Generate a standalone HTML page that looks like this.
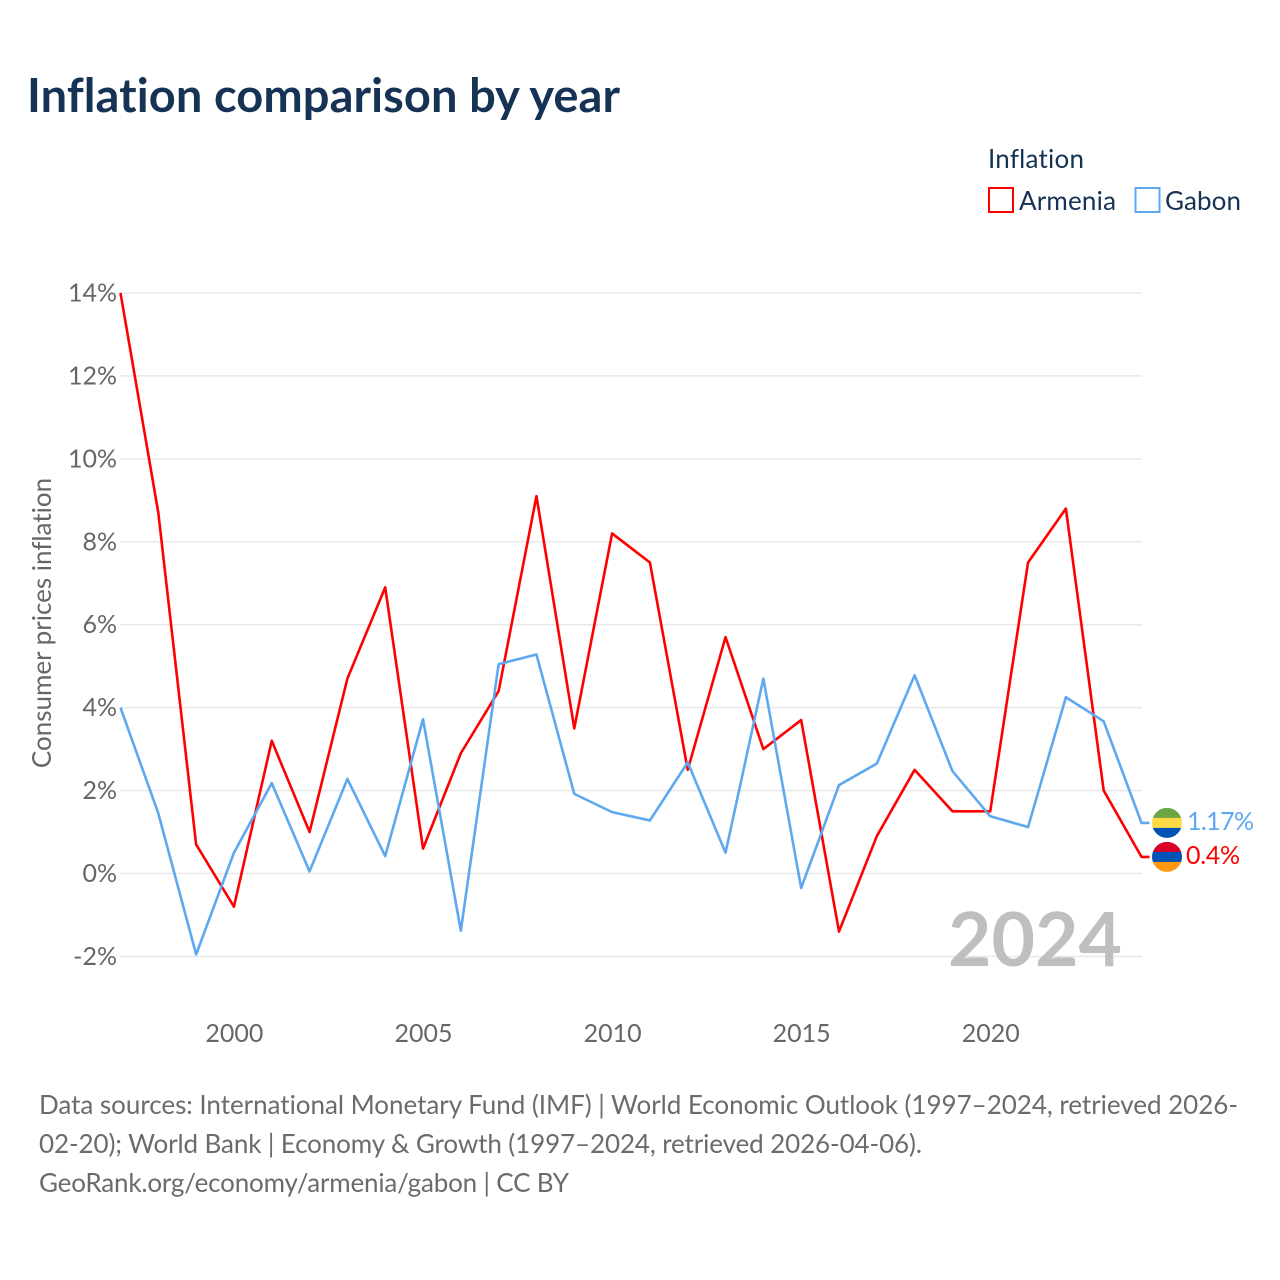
<!DOCTYPE html>
<html lang="en">
<head>
<meta charset="utf-8">
<title>Inflation comparison by year</title>
<style>
html,body{margin:0;padding:0;background:#fff;}
svg{display:block;}
text{font-family:"Lato","Carlito","Liberation Sans",sans-serif;font-variant-ligatures:none;}
</style>
</head>
<body>
<svg id="chart" width="1280" height="1280" viewBox="0 0 1280 1280" xmlns="http://www.w3.org/2000/svg">
  <text x="27" y="112" font-size="47" font-weight="700" fill="#163255" textLength="593">Inflation comparison by year</text>
  <text x="988" y="168" font-size="26" fill="#163255" textLength="96">Inflation</text>
  <g>
    <rect x="989" y="188" width="24" height="24" fill="#fff" stroke="#ff0000" stroke-width="2"/>
    <text x="1019" y="210" font-size="26" fill="#163255" textLength="97">Armenia</text>
  </g>
  <g>
    <rect x="1135.500" y="188" width="24" height="24" fill="#fff" stroke="#5ea8f0" stroke-width="2"/>
    <text x="1165" y="210" font-size="26" fill="#163255" textLength="76">Gabon</text>
  </g>
  <g id="grid"></g>
  <g id="yticks"></g>
  <g id="xticks"></g>
  <text transform="translate(51,623) rotate(-90)" text-anchor="middle" font-size="26" fill="#666666">Consumer prices inflation</text>
  <text x="1122" y="966" text-anchor="end" font-size="75" font-weight="700" fill="#bfbfbf">2024</text>
  <g id="series"></g>
  <g id="endlabels"></g>
  <g font-size="26" fill="#6b6b6b">
    <text x="39" y="1114" textLength="1199">Data sources: International Monetary Fund (IMF) | World Economic Outlook (1997–2024, retrieved 2026-</text>
    <text x="39" y="1153" textLength="883">02-20); World Bank | Economy &amp; Growth (1997–2024, retrieved 2026-04-06).</text>
    <text x="39" y="1192" textLength="530">GeoRank.org/economy/armenia/gabon | CC BY</text>
  </g>
</svg>
<script>
const years = [1997,1998,1999,2000,2001,2002,2003,2004,2005,2006,2007,2008,2009,2010,2011,2012,2013,2014,2015,2016,2017,2018,2019,2020,2021,2022,2023,2024];
const armenia = [14.0,8.7,0.7,-0.8,3.2,1.0,4.7,6.9,0.6,2.9,4.4,9.1,3.5,8.2,7.5,2.5,5.7,3.0,3.7,-1.4,0.9,2.5,1.5,1.5,7.5,8.8,2.0,0.4];
const gabon = [4.0,1.45,-1.95,0.5,2.18,0.05,2.28,0.42,3.72,-1.38,5.05,5.28,1.92,1.48,1.28,2.68,0.5,4.7,-0.35,2.13,2.65,4.78,2.47,1.38,1.12,4.25,3.67,1.17];
const yTickValues = [-2,0,2,4,6,8,10,12,14];
const xTickValues = [2000,2005,2010,2015,2020];

const NS = 'http://www.w3.org/2000/svg';
const RED = '#ff0000', BLUE = '#5ea8f0';
function xScale(year){ return 120.5 + (year - 1997) * (1141.5 - 120.5) / (2024 - 1997); }
function yScale(v){ return 873.5 - v * (956.5 - 293) / 16; }
function make(tag, attrs, parent, txt){
  const el = document.createElementNS(NS, tag);
  for (const k in attrs) el.setAttribute(k, attrs[k]);
  if (txt !== undefined) el.textContent = txt;
  parent.appendChild(el);
  return el;
}
const grid = document.getElementById('grid');
const yticks = document.getElementById('yticks');
const xticks = document.getElementById('xticks');
const series = document.getElementById('series');
const endlabels = document.getElementById('endlabels');

yTickValues.forEach(function(v){
  const line = make('line', {x1:120, x2:1142, y1:yScale(v), y2:yScale(v), stroke:'#e8e8e8', 'stroke-width':1.5}, grid);
  
  
  const label = make('text', {x:117, y:yScale(v)+8.5, 'text-anchor':'end', 'font-size':25, fill:'#666666'}, yticks, v + '%');
  
  
});
xTickValues.forEach(function(y){
  const label = make('text', {x:xScale(y)+0.5, y:1042, 'text-anchor':'middle', 'font-size':25, fill:'#666666'}, xticks, String(y));
  
  
});

const lastIndex = years.length - 1;
const yLow = yScale(armenia[lastIndex]);
const yHigh = Math.min(yScale(gabon[lastIndex]), yLow - 34);

function drawSeries(values, color, endY){
  let pts = values.map(function(v, i){ return xScale(years[i]) + ',' + yScale(v); });
  const endX = xScale(years[lastIndex]);
  pts[lastIndex] = endX + ',' + endY;
  pts.push((endX + 8) + ',' + endY);
  return make('polyline', {points:pts.join(' '), fill:'none', stroke:color, 'stroke-width':2.6, 'stroke-linejoin':'round'}, series);
}
const armeniaLine = drawSeries(armenia, RED, yLow);


const gabonLine = drawSeries(gabon, BLUE, yHigh);



function drawFlag(cy, colors, clipId){
  const g = make('g', {}, endlabels);
  const defs = make('defs', {}, g);
  const clip = make('clipPath', {id:clipId}, defs);
  make('circle', {cx:1167, cy:cy, r:15}, clip);
  const bands = make('g', {'clip-path':'url(#' + clipId + ')'}, g);
  colors.forEach(function(c, i){
    make('rect', {x:1152, y:cy - 15 + i * 10, width:30, height:10.2, fill:c}, bands);
  });
  return g;
}
const flagGabon = drawFlag(yHigh, ['#6da544','#ffda44','#0052b4'], 'clip-gabon');


const flagArmenia = drawFlag(yLow, ['#d80027','#0052b4','#ff9811'], 'clip-armenia');



const labelGabon = make('text', {x:1187, y:yHigh + 7, 'font-size':25, fill:BLUE, textLength:67}, endlabels, gabon[lastIndex] + '%');


const labelArmenia = make('text', {x:1186, y:yLow + 7, 'font-size':25, fill:RED, textLength:54}, endlabels, armenia[lastIndex] + '%');


</script>
</body>
</html>
